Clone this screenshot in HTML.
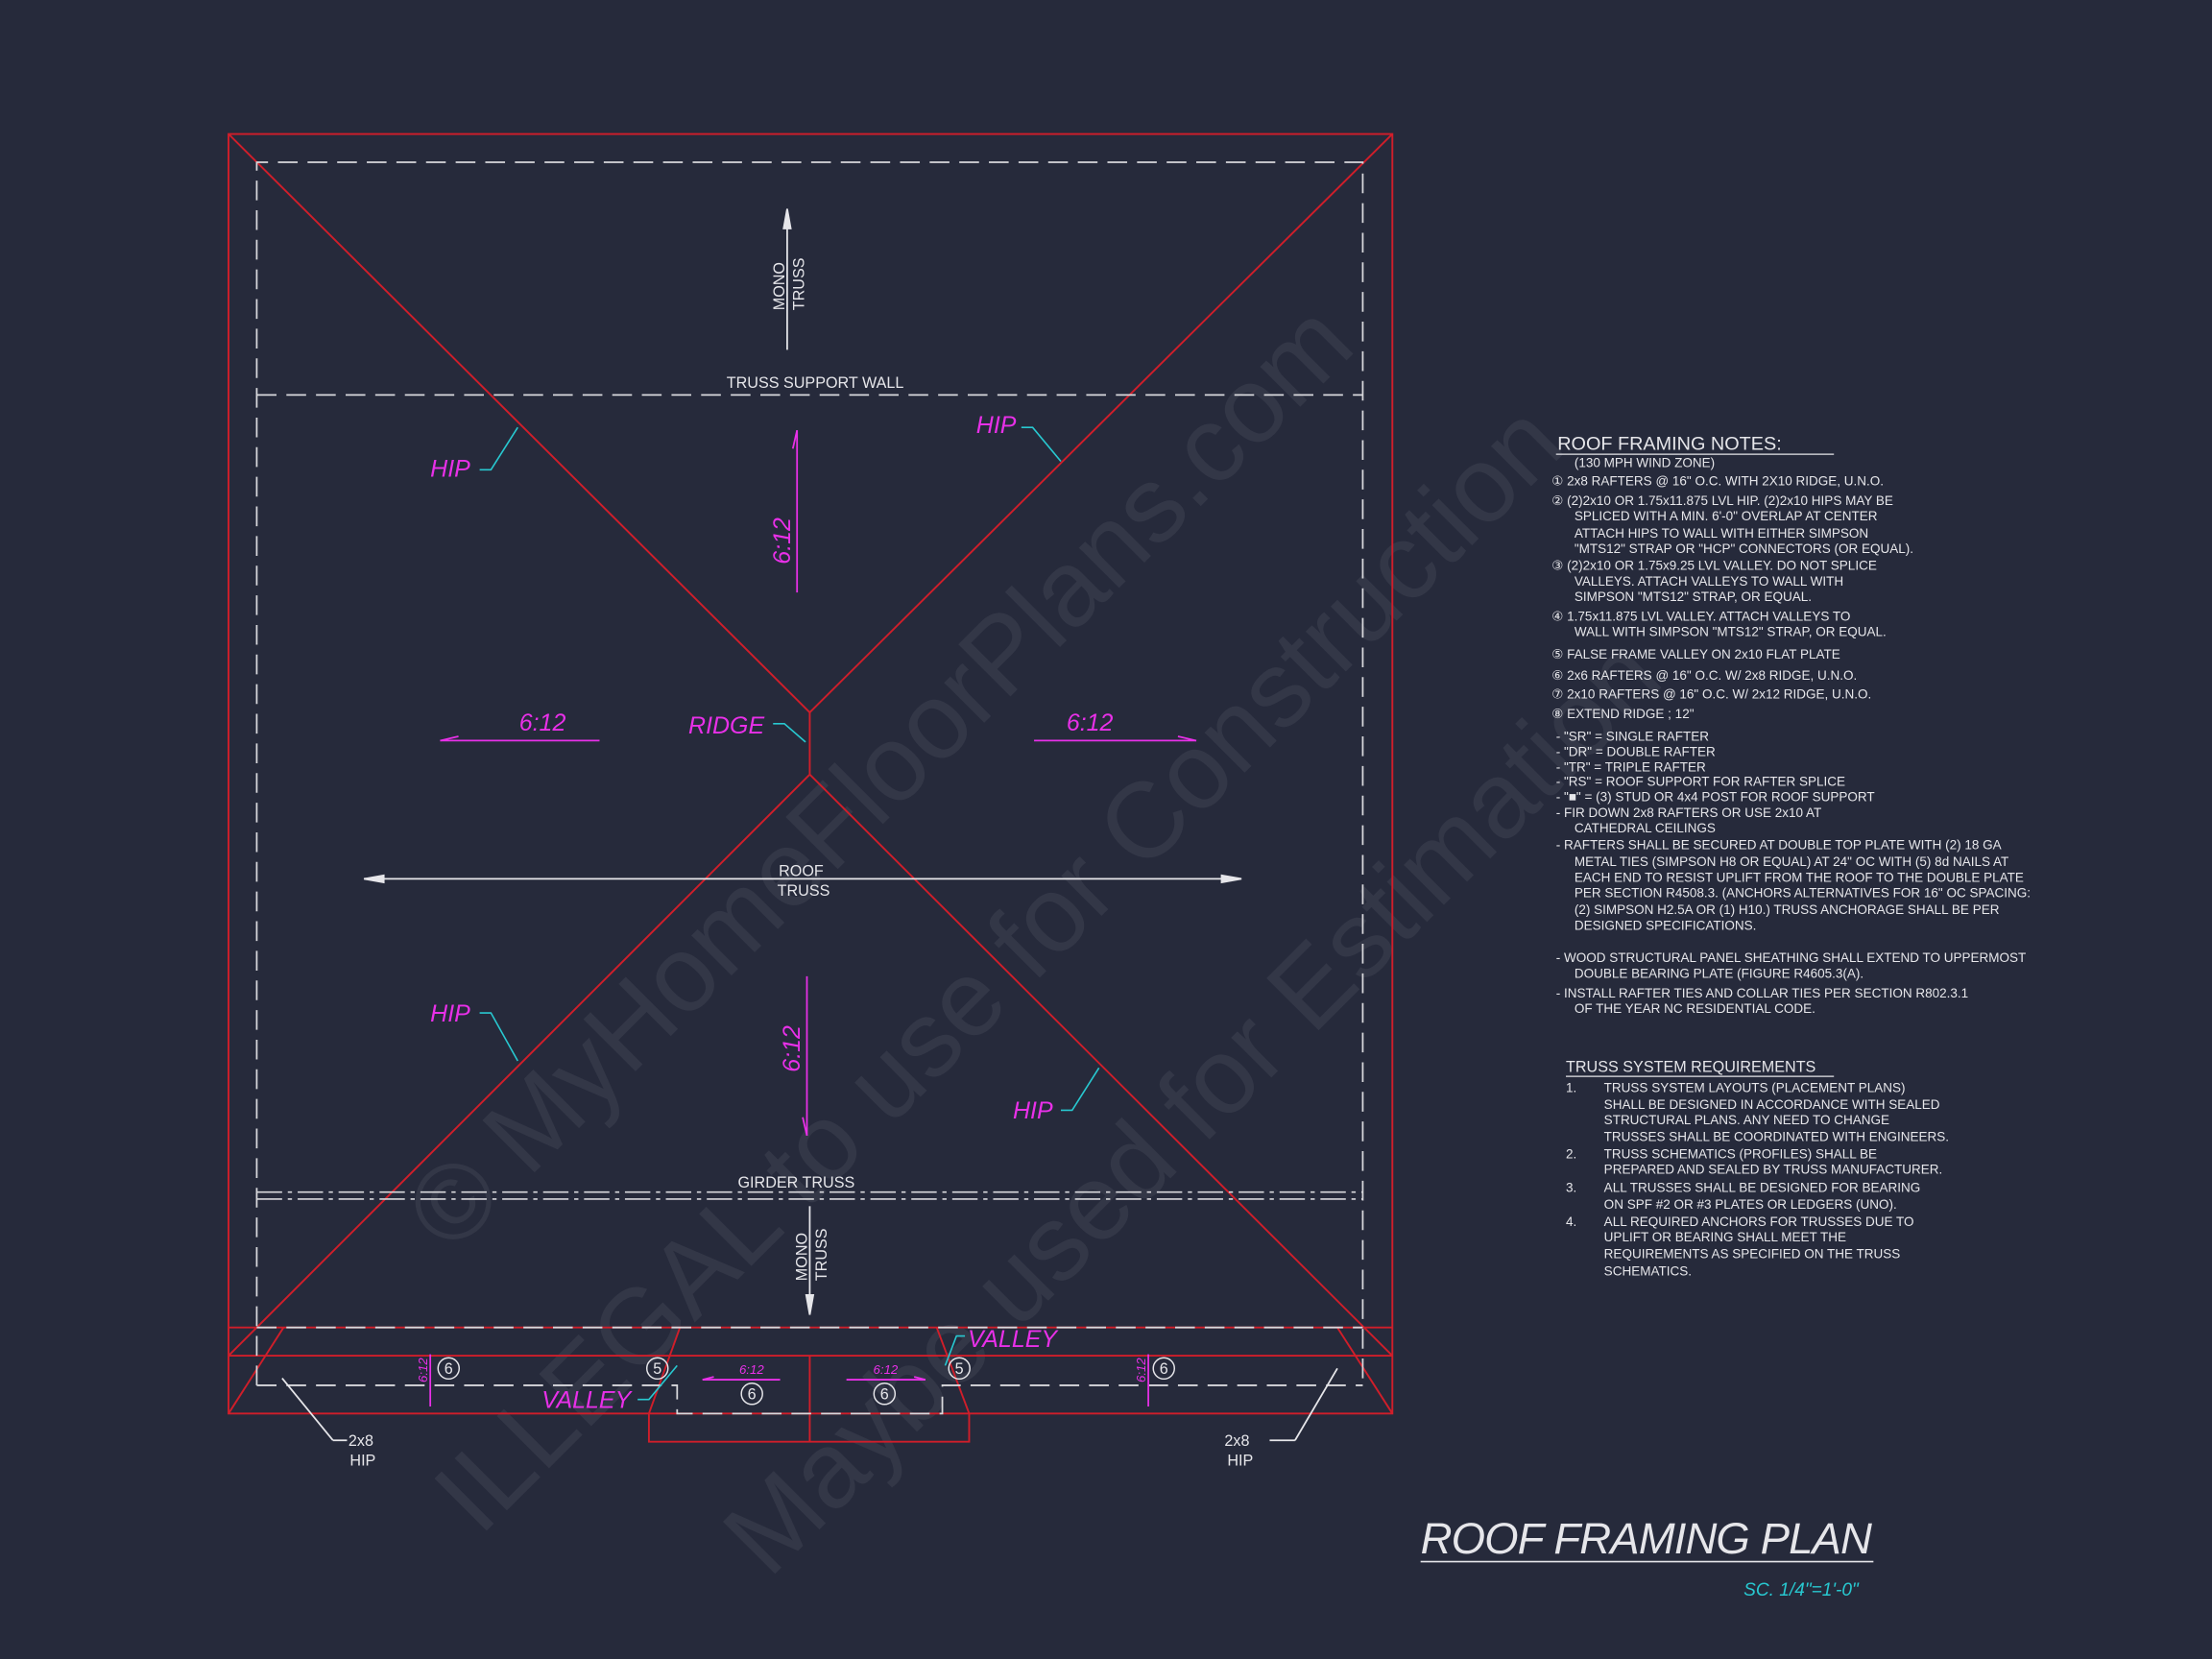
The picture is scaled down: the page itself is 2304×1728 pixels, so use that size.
<!DOCTYPE html>
<html><head><meta charset="utf-8"><style>
html,body{margin:0;padding:0;background:#262a3b;}
svg{display:block}
text{font-family:"Liberation Sans",sans-serif}
.n{fill:#e6e6ea;font-size:9.2px}
.m{fill:#e830e8;font-style:italic;font-size:17px}
.w{fill:#e6e6ea;font-size:11px}
</style></head><body>
<svg width="2304" height="1728" viewBox="0 0 1568 1176" xmlns="http://www.w3.org/2000/svg">
<rect width="1568" height="1176" fill="#262a3b"/>
<!-- watermark -->
<g fill="#8a8d99" opacity="0.13" font-family="Liberation Serif,serif" font-size="76">
<text transform="translate(340,1090) rotate(-45)">ILLEGAL to use for Construction</text>
<text transform="translate(320,890) rotate(-45)">© MyHomeFloorPlans.com</text>
<text transform="translate(545,1120) rotate(-45)">Maybe used for Estimation</text>
</g>
<!-- red lines -->
<g stroke="#d01e2a" stroke-width="1.3" fill="none">
<rect x="162" y="95" width="825" height="907"/>
<line x1="162" y1="95" x2="574" y2="505"/>
<line x1="987" y1="95" x2="574" y2="505"/>
<line x1="574" y1="505" x2="574" y2="549"/>
<line x1="574" y1="549" x2="162" y2="961"/>
<line x1="574" y1="549" x2="987" y2="961"/>
<line x1="162" y1="941" x2="987" y2="941"/>
<line x1="162" y1="961" x2="987" y2="961"/>
<polyline points="460,1002 460,1022 687,1022 687,1002"/>
<line x1="574" y1="961" x2="574" y2="1022"/>
<line x1="162" y1="1002" x2="201" y2="941"/>
<line x1="460" y1="1002" x2="482" y2="941"/>
<line x1="687" y1="1002" x2="664" y2="941"/>
<line x1="987" y1="1002" x2="948" y2="941"/>
</g>
<!-- dashed white -->
<g stroke="#d8d8dc" stroke-width="1.2" fill="none" stroke-dasharray="14,7">
<polyline points="182,982 182,115 966,115 966,982"/>
<line x1="182" y1="280" x2="966" y2="280"/>
<line x1="182" y1="941" x2="966" y2="941"/>
<polyline points="182,982 480,982 480,1002 668,1002 668,982 966,982"/>
</g>
<g stroke="#d8d8dc" stroke-width="1.1" fill="none" stroke-dasharray="18,4,3,4">
<line x1="182" y1="845" x2="966" y2="845"/>
<line x1="182" y1="850" x2="966" y2="850"/>
</g>
<!-- arrows -->
<g stroke="#e6e6ea" stroke-width="1.2" fill="#e6e6ea">
<line x1="558" y1="152" x2="558" y2="248"/><polygon points="558,148 555.5,162 560.5,162"/>
<line x1="262" y1="623" x2="876" y2="623"/><polygon points="258,623 272,620.5 272,625.5"/><polygon points="880,623 866,620.5 866,625.5"/>
<line x1="574" y1="855" x2="574" y2="928"/><polygon points="574,932 571.5,918 576.5,918"/>
<line x1="200" y1="977" x2="236" y2="1021" fill="none"/><line x1="236" y1="1021" x2="246" y2="1021"/>
<line x1="948" y1="970" x2="918" y2="1021" fill="none"/><line x1="918" y1="1021" x2="900" y2="1021"/>
</g>
<text class="w" x="515" y="275">TRUSS SUPPORT WALL</text>
<text class="w" x="523" y="842">GIRDER TRUSS</text>
<text class="w" x="552" y="621">ROOF</text><text class="w" x="551" y="635">TRUSS</text>
<text class="w" transform="translate(556,220) rotate(-90)">MONO</text>
<text class="w" transform="translate(570,220) rotate(-90)">TRUSS</text>
<text class="w" transform="translate(572,908) rotate(-90)">MONO</text>
<text class="w" transform="translate(586,908) rotate(-90)">TRUSS</text>
<text class="w" x="247" y="1025">2x8</text><text class="w" x="248" y="1039">HIP</text>
<text class="w" x="868" y="1025">2x8</text><text class="w" x="870" y="1039">HIP</text>
<!-- magenta -->
<g stroke="#e830e8" stroke-width="1.2" fill="none">
<line x1="565" y1="305" x2="565" y2="420"/><line x1="572" y1="692" x2="572" y2="805"/>
<line x1="312" y1="525" x2="425" y2="525"/><line x1="733" y1="525" x2="848" y2="525"/>
<line x1="305" y1="960" x2="305" y2="997"/><line x1="814" y1="960" x2="814" y2="997"/>
<line x1="498" y1="978" x2="553" y2="978"/><line x1="600" y1="978" x2="656" y2="978"/>
<line x1="565" y1="305" x2="562" y2="318"/><line x1="572" y1="805" x2="569" y2="792"/>
<line x1="312" y1="525" x2="325" y2="522"/><line x1="848" y1="525" x2="835" y2="522"/>
<line x1="498" y1="978" x2="506" y2="976"/><line x1="656" y1="978" x2="648" y2="976"/>
</g>
<text class="m" x="305" y="338">HIP</text><text class="m" x="692" y="307">HIP</text>
<text class="m" x="305" y="724">HIP</text><text class="m" x="718" y="793">HIP</text>
<text class="m" x="488" y="520">RIDGE</text>
<text class="m" x="368" y="518">6:12</text><text class="m" x="756" y="518">6:12</text>
<text class="m" transform="translate(560,400) rotate(-90)">6:12</text>
<text class="m" transform="translate(567,760) rotate(-90)">6:12</text>
<text class="m" x="384" y="998">VALLEY</text><text class="m" x="686" y="955">VALLEY</text>
<g fill="#e830e8" font-size="9" font-style="italic"><text x="524" y="974">6:12</text><text x="619" y="974">6:12</text>
<text transform="translate(303,980) rotate(-90)">6:12</text><text transform="translate(812,980) rotate(-90)">6:12</text></g>
<!-- cyan leaders -->
<g stroke="#28c8d0" stroke-width="1.1" fill="none">
<polyline points="340,333 348,333 367,303"/><polyline points="724,303 732,303 752,327"/>
<polyline points="340,718 348,718 367,752"/><polyline points="752,787 760,787 779,757"/>
<polyline points="548,513 556,513 571,526"/>
<polyline points="452,992 460,992 480,968"/><polyline points="684,947 678,947 670,968"/>
</g>
<!-- circles -->
<g stroke="#e6e6ea" stroke-width="1" fill="none">
<circle cx="318" cy="970" r="7.5"/><circle cx="466" cy="970" r="7.5"/><circle cx="533" cy="988" r="7.5"/>
<circle cx="627" cy="988" r="7.5"/><circle cx="680" cy="970" r="7.5"/><circle cx="825" cy="970" r="7.5"/>
</g>
<g fill="#e6e6ea" font-size="11" text-anchor="middle">
<text x="318" y="974">6</text><text x="466" y="974">5</text><text x="533" y="992">6</text>
<text x="627" y="992">6</text><text x="680" y="974">5</text><text x="825" y="974">6</text></g>
<!-- notes -->
<text x="1104" y="319" fill="#e6e6ea" font-size="13.5">ROOF FRAMING NOTES:</text>
<line x1="1103" y1="322" x2="1300" y2="322" stroke="#e6e6ea" stroke-width="0.9"/>
<g class="n">
<text x="1116" y="331" class="n">(130 MPH WIND ZONE)</text>
<text x="1100" y="344" class="n">① 2x8 RAFTERS @ 16" O.C. WITH 2X10 RIDGE, U.N.O.</text>
<text x="1100" y="358" class="n">② (2)2x10 OR 1.75x11.875 LVL HIP.  (2)2x10 HIPS MAY BE</text>
<text x="1116" y="369" class="n">SPLICED WITH A MIN. 6'-0" OVERLAP AT CENTER</text>
<text x="1116" y="381" class="n">ATTACH HIPS TO WALL WITH EITHER SIMPSON</text>
<text x="1116" y="392" class="n">"MTS12" STRAP OR "HCP" CONNECTORS (OR EQUAL).</text>
<text x="1100" y="404" class="n">③ (2)2x10 OR 1.75x9.25 LVL VALLEY.  DO NOT SPLICE</text>
<text x="1116" y="415" class="n">VALLEYS.  ATTACH VALLEYS TO WALL WITH</text>
<text x="1116" y="426" class="n">SIMPSON "MTS12" STRAP, OR EQUAL.</text>
<text x="1100" y="440" class="n">④ 1.75x11.875 LVL VALLEY.  ATTACH VALLEYS TO</text>
<text x="1116" y="451" class="n">WALL WITH SIMPSON "MTS12" STRAP, OR EQUAL.</text>
<text x="1100" y="467" class="n">⑤ FALSE FRAME VALLEY ON 2x10 FLAT PLATE</text>
<text x="1100" y="482" class="n">⑥ 2x6 RAFTERS @ 16" O.C. W/ 2x8 RIDGE, U.N.O.</text>
<text x="1100" y="495" class="n">⑦ 2x10 RAFTERS @ 16" O.C. W/ 2x12 RIDGE, U.N.O.</text>
<text x="1100" y="509" class="n">⑧ EXTEND RIDGE ; 12"</text>
<text x="1103" y="525" class="n">-  "SR"  =  SINGLE RAFTER</text>
<text x="1103" y="536" class="n">-  "DR"  =  DOUBLE RAFTER</text>
<text x="1103" y="547" class="n">-  "TR"  =  TRIPLE RAFTER</text>
<text x="1103" y="557" class="n">-  "RS"  =  ROOF SUPPORT FOR RAFTER SPLICE</text>
<text x="1103" y="568" class="n">-  "■"   =  (3) STUD OR 4x4 POST FOR ROOF SUPPORT</text>
<text x="1103" y="579" class="n">-  FIR DOWN 2x8 RAFTERS OR USE 2x10 AT</text>
<text x="1116" y="590" class="n">CATHEDRAL CEILINGS</text>
<text x="1103" y="602" class="n">-  RAFTERS SHALL BE SECURED AT DOUBLE TOP PLATE WITH (2) 18 GA</text>
<text x="1116" y="614" class="n">METAL TIES (SIMPSON H8 OR EQUAL) AT 24" OC WITH (5) 8d NAILS AT</text>
<text x="1116" y="625" class="n">EACH END TO RESIST UPLIFT FROM THE ROOF TO THE DOUBLE PLATE</text>
<text x="1116" y="636" class="n">PER SECTION R4508.3. (ANCHORS ALTERNATIVES FOR 16" OC SPACING:</text>
<text x="1116" y="648" class="n">(2) SIMPSON H2.5A OR (1) H10.) TRUSS ANCHORAGE SHALL BE PER</text>
<text x="1116" y="659" class="n">DESIGNED SPECIFICATIONS.</text>
<text x="1103" y="682" class="n">-  WOOD STRUCTURAL PANEL SHEATHING SHALL EXTEND TO UPPERMOST</text>
<text x="1116" y="693" class="n">DOUBLE BEARING PLATE (FIGURE R4605.3(A).</text>
<text x="1103" y="707" class="n">-  INSTALL RAFTER TIES AND COLLAR TIES PER SECTION R802.3.1</text>
<text x="1116" y="718" class="n">OF THE YEAR NC RESIDENTIAL CODE.</text>
<text x="1110" y="760" style="font-size:11px">TRUSS SYSTEM REQUIREMENTS</text>
<text x="1110" y="774" class="n">1.</text><text x="1137" y="774" class="n">TRUSS SYSTEM LAYOUTS (PLACEMENT PLANS)</text>
<text x="1137" y="786" class="n">SHALL BE DESIGNED IN ACCORDANCE WITH SEALED</text>
<text x="1137" y="797" class="n">STRUCTURAL PLANS. ANY NEED TO CHANGE</text>
<text x="1137" y="809" class="n">TRUSSES SHALL BE COORDINATED WITH  ENGINEERS.</text>
<text x="1110" y="821" class="n">2.</text><text x="1137" y="821" class="n">TRUSS SCHEMATICS (PROFILES) SHALL BE</text>
<text x="1137" y="832" class="n">PREPARED AND SEALED BY TRUSS MANUFACTURER.</text>
<text x="1110" y="845" class="n">3.</text><text x="1137" y="845" class="n">ALL TRUSSES SHALL BE DESIGNED FOR BEARING</text>
<text x="1137" y="857" class="n">ON SPF #2 OR #3 PLATES OR LEDGERS (UNO).</text>
<text x="1110" y="869" class="n">4.</text><text x="1137" y="869" class="n">ALL REQUIRED ANCHORS FOR TRUSSES DUE TO</text>
<text x="1137" y="880" class="n">UPLIFT OR BEARING SHALL MEET THE</text>
<text x="1137" y="892" class="n">REQUIREMENTS AS SPECIFIED ON THE TRUSS</text>
<text x="1137" y="904" class="n">SCHEMATICS.</text>
</g>
<line x1="1110" y1="763" x2="1300" y2="763" stroke="#e6e6ea" stroke-width="0.8"/>
<!-- title -->
<text x="1007" y="1101" fill="#e6e6ea" font-size="31" font-style="italic" textLength="320">ROOF FRAMING PLAN</text>
<line x1="1007" y1="1107" x2="1328" y2="1107" stroke="#e6e6ea" stroke-width="1.1"/>
<text x="1236" y="1131" fill="#28c8d0" font-size="13" font-style="italic">SC. 1/4"=1'-0"</text>
</svg>
</body></html>
